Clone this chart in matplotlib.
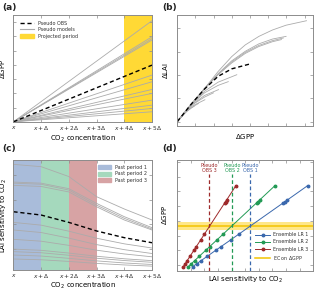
import numpy as np
import matplotlib.pyplot as plt
from matplotlib.patches import Patch
from matplotlib.lines import Line2D

plt.rcParams['font.family'] = ['DejaVu Sans']
plt.rcParams['font.size'] = 4
plt.rcParams['text.color'] = '#333333'

# --- data ---------------------------------------------------------------
co2_steps = [0, 1, 2, 3, 4, 5]
co2_labels = [r'$x$', r'$x + \Delta$', r'$x + 2\Delta$', r'$x + 3\Delta$',
              r'$x + 4\Delta$', r'$x + 5\Delta$']

# (a) dGPP reached at x+5Δ (all start at 0)
gpp_end_models = [0.947, 0.797, 0.78, 0.766, 0.4375, 0.375, 0.303, 0.266,
                  0.203, 0.156, 0.125, 0.094]
gpp_end_obs = 0.531

# (b) dLAI vs dGPP curves
lai_top_x = [0, 0.1, 0.2, 0.3, 0.4, 0.5, 0.6, 0.7, 0.8, 0.95]
lai_top_y = [0, 0.16, 0.31, 0.47, 0.61, 0.72, 0.8, 0.86, 0.905, 0.947]
lai_g1_x = [0, 0.1, 0.2, 0.3, 0.4, 0.5, 0.6, 0.7, 0.8]
lai_g1_y = [0, 0.16, 0.31, 0.45, 0.57, 0.66, 0.73, 0.775, 0.80]
lai_g2_x = [0, 0.1, 0.2, 0.3, 0.4, 0.5, 0.6, 0.7, 0.78]
lai_g2_y = [0, 0.16, 0.31, 0.445, 0.56, 0.65, 0.715, 0.76, 0.785]
lai_g3_x = [0, 0.1, 0.2, 0.3, 0.4, 0.5, 0.6, 0.7, 0.766]
lai_g3_y = [0, 0.16, 0.305, 0.44, 0.55, 0.64, 0.705, 0.75, 0.77]
lai_l1_x = [0, 0.1, 0.2, 0.3, 0.4375]
lai_l1_y = [0, 0.155, 0.285, 0.37, 0.44]
lai_l2_x = [0, 0.1, 0.2, 0.3, 0.375]
lai_l2_y = [0, 0.155, 0.27, 0.34, 0.375]
lai_l3_x = [0, 0.1, 0.2, 0.303]
lai_l3_y = [0, 0.15, 0.245, 0.30]
lai_l4_x = [0, 0.1, 0.2, 0.266]
lai_l4_y = [0, 0.15, 0.23, 0.27]
lai_l5_x = [0, 0.1, 0.203]
lai_l5_y = [0, 0.14, 0.205]
lai_l6_x = [0, 0.08, 0.156]
lai_l6_y = [0, 0.115, 0.17]
lai_l7_x = [0, 0.06, 0.125]
lai_l7_y = [0, 0.09, 0.145]
lai_l8_x = [0, 0.05, 0.094]
lai_l8_y = [0, 0.075, 0.12]
lai_obs_x = [0, 0.1, 0.2, 0.3, 0.4, 0.531]
lai_obs_y = [0, 0.16, 0.305, 0.425, 0.495, 0.54]

# (c) LAI sensitivity to CO2 at x, x+Δ ... x+5Δ
sens_models = [
    [0.961, 0.94, 0.85, 0.667, 0.555, 0.455],
    [0.80, 0.79, 0.74, 0.606, 0.485, 0.385],
    [0.79, 0.78, 0.727, 0.59, 0.47, 0.373],
    [0.77, 0.76, 0.71, 0.575, 0.455, 0.364],
    [0.433, 0.408, 0.353, 0.289, 0.238, 0.20],
    [0.364, 0.341, 0.290, 0.231, 0.185, 0.15],
    [0.279, 0.262, 0.224, 0.180, 0.146, 0.12],
    [0.19, 0.179, 0.154, 0.125, 0.102, 0.085],
    [0.167, 0.157, 0.134, 0.107, 0.086, 0.07],
    [0.136, 0.127, 0.106, 0.083, 0.064, 0.05],
    [0.10, 0.093, 0.078, 0.06, 0.046, 0.035],
]
sens_obs = [0.53, 0.5, 0.433, 0.355, 0.294, 0.248]
periods = ['Past period 1', 'Past period 2', 'Past period 3']

# (d) emergent constraint: sensitivity per period vs dGPP of each model
lr1_sens = [0.958, 0.810, 0.795, 0.779, 0.454, 0.392, 0.320, 0.283, 0.221, 0.174, 0.144, 0.113]
lr2_sens = [0.718, 0.606, 0.595, 0.583, 0.338, 0.291, 0.237, 0.209, 0.162, 0.127, 0.104, 0.081]
lr3_sens = [0.431, 0.363, 0.356, 0.349, 0.200, 0.172, 0.139, 0.122, 0.094, 0.072, 0.059, 0.044]
obs_sens = [0.534, 0.402, 0.235]
ec_gpp = 0.522
ec_band = (0.48, 0.56)

# --- style --------------------------------------------------------------
grey = '#ababab'
spine_c = '#8c8c8c'
yellow = '#ffd935'
c_blue, c_green, c_red = '#3a68ad', '#229a55', '#9e2a2b'
dash = (0, (3, 2))


def style(ax):
    for s in ax.spines.values():
        s.set_color(spine_c)
        s.set_linewidth(0.7)
    ax.tick_params(direction='in', length=2, width=0.5, color=spine_c,
                   top=True, right=True, labelsize=4.2, pad=1.8,
                   labelcolor='#333333')


fig = plt.figure(figsize=(3.2, 2.9), dpi=100)
ax_a = fig.add_axes([0.042, 0.580, 0.433, 0.368])
ax_b = fig.add_axes([0.554, 0.566, 0.425, 0.382])
ax_c = fig.add_axes([0.042, 0.069, 0.433, 0.379])
ax_d = fig.add_axes([0.554, 0.067, 0.425, 0.381])

# (a)
ax_a.axvspan(4, 5, color=yellow, lw=0)
for g in gpp_end_models:
    ax_a.plot([0, 5], [0, g], color=grey, lw=0.6)
ax_a.plot([0, 5], [0, gpp_end_obs], color='k', lw=1.0, ls=dash)
ax_a.set_xlim(0, 5)
ax_a.set_ylim(0, 1)
ax_a.set_xticks(co2_steps)
ax_a.set_xticklabels(co2_labels)
ax_a.set_yticks(np.arange(0, 1, 0.1333))
ax_a.set_yticklabels([])
ax_a.set_xlabel(r'CO$_2$ concentration', fontsize=5)
ax_a.set_ylabel(r'$\Delta$GPP', fontsize=5)
ax_a.xaxis.set_label_coords(0.5, -0.115)
ax_a.yaxis.set_label_coords(-0.043, 0.5)
style(ax_a)
ax_a.legend(handles=[Line2D([], [], color='k', lw=1.0, ls=dash),
                     Line2D([], [], color=grey, lw=0.8),
                     Patch(color=yellow)],
            labels=['Pseudo OBS', 'Pseudo models', 'Projected period'],
            loc='upper left', bbox_to_anchor=(0.02, 0.98), frameon=False,
            fontsize=3.5, handlelength=3.0, handleheight=0.9,
            labelspacing=0.35, borderpad=0.2)

# (b)
curves_b = [(lai_top_x, lai_top_y), (lai_g1_x, lai_g1_y), (lai_g2_x, lai_g2_y),
            (lai_g3_x, lai_g3_y), (lai_l1_x, lai_l1_y), (lai_l2_x, lai_l2_y),
            (lai_l3_x, lai_l3_y), (lai_l4_x, lai_l4_y), (lai_l5_x, lai_l5_y),
            (lai_l6_x, lai_l6_y), (lai_l7_x, lai_l7_y), (lai_l8_x, lai_l8_y)]
for cx, cy in curves_b:
    ax_b.plot(cx, cy, color=grey, lw=0.6)
ax_b.plot(lai_obs_x, lai_obs_y, color='k', lw=1.0, ls=dash)
ax_b.set_xlim(0, 1)
ax_b.set_ylim(-0.04, 1)
ax_b.set_xticks(np.arange(0, 1, 0.1337))
ax_b.set_yticks([0, 0.219, 0.4375, 0.656, 0.875])
ax_b.set_xticklabels([])
ax_b.set_yticklabels([])
ax_b.set_xlabel(r'$\Delta$GPP', fontsize=5)
ax_b.set_ylabel(r'$\Delta$LAI', fontsize=5)
ax_b.xaxis.set_label_coords(0.5, -0.055)
ax_b.yaxis.set_label_coords(-0.05, 0.5)
style(ax_b)

# (c)
period_colors = ['#a9bcda', '#a5d9bd', '#d7a3a4']
for i, pc in enumerate(period_colors):
    ax_c.axvspan(co2_steps[i], co2_steps[i + 1], color=pc, lw=0)
for s in sens_models:
    ax_c.plot(co2_steps, s, color=grey, lw=0.6)
ax_c.plot(co2_steps, sens_obs, color='k', lw=1.0, ls=dash)
ax_c.set_xlim(0, 5)
ax_c.set_ylim(0, 1)
ax_c.set_xticks(co2_steps)
ax_c.set_xticklabels(co2_labels)
ax_c.set_yticks([0.19, 0.416, 0.64, 0.864])
ax_c.set_yticklabels([])
ax_c.set_xlabel(r'CO$_2$ concentration', fontsize=5)
ax_c.set_ylabel(r'LAI sensitivity to CO$_2$', fontsize=5)
ax_c.xaxis.set_label_coords(0.5, -0.097)
ax_c.yaxis.set_label_coords(-0.031, 0.5)
style(ax_c)
ax_c.legend(handles=[Patch(color=pc) for pc in period_colors], labels=periods,
            loc='upper right', bbox_to_anchor=(0.99, 0.99), frameon=False,
            fontsize=3.5, handlelength=2.8, handleheight=0.9,
            labelspacing=0.35, borderpad=0.2)

# (d)
ylo, yhi = 0.052, 1.217
ax_d.axhspan(ec_band[0], ec_band[1], color='#ffe789', lw=0)
ax_d.axhline(ec_gpp, color='#f3c300', lw=1.1)
ens = [(lr1_sens, c_blue, 'Ensemble LR 1'),
       (lr2_sens, c_green, 'Ensemble LR 2'),
       (lr3_sens, c_red, 'Ensemble LR 3')]
handles = []
for sens, col, lab in ens:
    order = np.argsort(gpp_end_models)
    xs = np.array(sens)[order]
    ys = np.array(gpp_end_models)[order]
    h, = ax_d.plot(xs, ys, '-o', color=col, lw=0.7, ms=1.8, label=lab)
    handles.append(h)
handles.append(Line2D([], [], color='#f3c300', lw=1.1))
for xo, col, n in zip(obs_sens, [c_blue, c_green, c_red], [1, 2, 3]):
    ax_d.vlines(xo, ylo, 1.066, color=col, lw=0.9, linestyles=dash)
    ax_d.text(xo, 1.135, 'Pseudo\nOBS %d' % n, color=col, fontsize=3.5,
              ha='center', va='center', linespacing=1.0)
ax_d.set_xlim(0, 1)
ax_d.set_ylim(ylo, yhi)
ax_d.set_xticks(np.arange(0, 1, 0.1))
ax_d.set_yticks([0.111, 0.266, 0.421, 0.576, 0.731, 0.886, 1.041, 1.196])
ax_d.set_xticklabels([])
ax_d.set_yticklabels([])
ax_d.set_xlabel(r'LAI sensitivity to CO$_2$', fontsize=5)
ax_d.set_ylabel(r'$\Delta$GPP', fontsize=5)
ax_d.xaxis.set_label_coords(0.5, -0.04)
ax_d.yaxis.set_label_coords(-0.06, 0.5)
style(ax_d)
ax_d.legend(handles=handles,
            labels=['Ensemble LR 1', 'Ensemble LR 2', 'Ensemble LR 3',
                    r'EC on $\Delta$GPP'],
            loc='lower right', bbox_to_anchor=(0.99, 0.05), frameon=False,
            fontsize=3.4, handlelength=3.0, labelspacing=0.45, borderpad=0.2)

# panel labels
for x, y, t in [(0.008, 0.99, '(a)'), (0.506, 0.99, '(b)'),
                (0.008, 0.505, '(c)'), (0.506, 0.505, '(d)')]:
    fig.text(x, y, t, fontsize=6.5, fontweight='bold', va='top', color='#222222')

fig.savefig('out.png', dpi=100)
